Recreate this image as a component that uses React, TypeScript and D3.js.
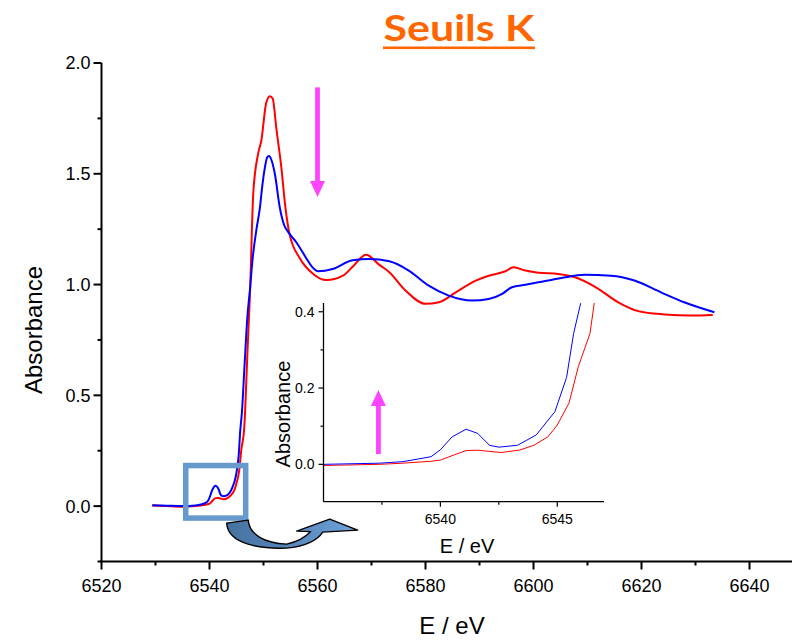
import React from "react";
import * as d3 from "d3";

// ---- Data ----
const energyBlue = [
  6529.4, 6532, 6535, 6537.4, 6538.4, 6539.6, 6540.0, 6540.5, 6541.1, 6541.6, 6542.1, 6542.5,
  6543.3, 6544.1, 6544.9, 6545.4, 6545.7, 6546.0, 6546.5, 6547.0, 6547.5, 6548.0, 6548.7, 6549.3,
  6549.8, 6550.2, 6550.7, 6551.0, 6551.5, 6552.1, 6553.0, 6553.8, 6554.5, 6556.1, 6557.9, 6559.0,
  6560.1, 6562.8, 6566.5, 6569.6, 6573.3, 6576.9, 6580.6, 6584.3, 6588.6, 6591.7, 6594.2, 6596.0,
  6598.5, 6600.9, 6605.2, 6609.5, 6614.4, 6618.7, 6623.6, 6627.9, 6633.5,
];
const absBlue = [
  0.004, 0.002, 0.0, 0.003, 0.007, 0.02, 0.038, 0.072, 0.092, 0.081, 0.05, 0.045,
  0.05, 0.077, 0.138, 0.228, 0.343, 0.422, 0.64, 0.85, 0.98, 1.12, 1.25, 1.34,
  1.45, 1.52, 1.575, 1.58, 1.56, 1.5, 1.35, 1.27, 1.24, 1.19, 1.12, 1.08,
  1.06, 1.07, 1.11, 1.115, 1.105, 1.063, 0.995, 0.95, 0.928, 0.935, 0.958, 0.988,
  0.999, 1.01, 1.03, 1.044, 1.04, 1.018, 0.965, 0.92, 0.875,
];
const energyRed = [
  6529.4, 6532, 6535, 6537.4, 6538.4, 6539.6, 6540.0, 6540.6, 6541.1, 6541.6, 6542.6, 6543.4,
  6544.0, 6544.6, 6545.0, 6545.5, 6545.9, 6546.4, 6546.6, 6547.0, 6547.5, 6548.1, 6549.0, 6549.6,
  6550.5, 6551.2, 6551.7, 6552.4, 6553.3, 6554.0, 6554.8, 6556.7, 6559.1, 6561.6, 6564.7, 6566.5,
  6569.0, 6571.4, 6573.3, 6576.3, 6580.0, 6582.5, 6585.6, 6589.3, 6591.7, 6594.8, 6596.3, 6598.5,
  6600.9, 6604.6, 6607.7, 6611.4, 6615.7, 6619.4, 6624.3, 6629.2, 6633.2,
];
const absRed = [
  0.003, 0.0, -0.003, 0.0, 0.003, 0.008, 0.011, 0.025, 0.036, 0.037, 0.031, 0.0375,
  0.05, 0.072, 0.103, 0.16, 0.256, 0.343, 0.43, 0.68, 0.96, 1.41, 1.59, 1.65,
  1.82, 1.85, 1.84, 1.7, 1.53, 1.36, 1.23, 1.12, 1.05, 1.02, 1.04, 1.08,
  1.135, 1.09, 1.056, 0.973, 0.913, 0.92, 0.965, 1.018, 1.04, 1.06, 1.078, 1.063,
  1.053, 1.048, 1.033, 0.99, 0.92, 0.88, 0.865, 0.86, 0.863,
];

const mainXTicks = [6520, 6540, 6560, 6580, 6600, 6620, 6640];
const mainXMinor = [6530, 6550, 6570, 6590, 6610, 6630, 6650];
const mainYTicks = [0.0, 0.5, 1.0, 1.5, 2.0];
const mainYMinor = [-0.25, 0.25, 0.75, 1.25, 1.75];
const insetXTicks = [6540, 6545];
const insetXMinor = [6537.5, 6542.5];
const insetYTicks = [0.0, 0.2, 0.4];
const insetYMinor = [0.1, 0.3];

const zoomBoxE = [6535.6, 6546.7];
const zoomBoxA = [-0.054, 0.183];

const FONT = "'Liberation Sans', Arial, sans-serif";
const BLUE = "#0000ff";
const RED = "#ff0000";
const MAGENTA = "#ff44ff";

export default function App() {
  const x = d3.scaleLinear().domain([6520, 6648]).range([101.5, 792.7]);
  const y = d3.scaleLinear().domain([-0.25, 2.0]).range([561.5, 63]);
  const xi = d3.scaleLinear().domain([6535, 6547]).range([323.5, 604]);
  const yi = d3.scaleLinear().domain([-0.098, 0.423]).range([501.7, 303]);

  const blue = energyBlue.map((e, i) => [e, absBlue[i]] as [number, number]);
  const red = energyRed.map((e, i) => [e, absRed[i]] as [number, number]);

  const mainLine = d3
    .line<[number, number]>()
    .x((d) => x(d[0]))
    .y((d) => y(d[1]))
    .curve(d3.curveMonotoneX);
  const insetLine = d3
    .line<[number, number]>()
    .x((d) => xi(d[0]))
    .y((d) => yi(d[1]));

  const x0 = x.range()[0];
  const yb = y.range()[0];
  const xi0 = xi.range()[0];
  const yib = yi.range()[0];

  // zoom box
  const bx0 = x(zoomBoxE[0]);
  const bx1 = x(zoomBoxE[1]);
  const by0 = y(zoomBoxA[1]);
  const by1 = y(zoomBoxA[0]);

  // curved arrow anchored to the zoom box's bottom-right corner
  const ax = bx1;
  const ay = by1;
  const arrowPath = `M ${ax - 19} ${ay + 5}
    C ${ax - 18} ${ay + 27}, ${ax + 17} ${ay + 31}, ${ax + 41} ${ay + 30}
    C ${ax + 59} ${ay + 29}, ${ax + 72} ${ay + 22}, ${ax + 77} ${ay + 14}
    L ${ax + 112} ${ay + 12}
    L ${ax + 84} ${ay + 1}
    L ${ax + 51} ${ay + 13}
    L ${ax + 65} ${ay + 13.5}
    C ${ax + 59} ${ay + 20}, ${ax + 51} ${ay + 24}, ${ax + 41} ${ay + 26}
    C ${ax + 19} ${ay + 25}, ${ax + 4} ${ay + 17}, ${ax + 2.5} ${ay + 2} Z`;

  // magenta arrows
  const mArrowE = 6560;
  const mArrowTop = y(1.89);
  const mArrowTip = y(1.395);
  const mx = x(mArrowE);
  const iArrowE = 6537.35;
  const ix = xi(iArrowE);
  const iArrowBottom = yi(0.027);
  const iArrowTip = yi(0.195);

  return (
    <svg
      width={792}
      height={640}
      style={{ position: "absolute", left: 0, top: 0, background: "#fff" }}
      fontFamily={FONT}
    >
      <defs>
        <clipPath id="mainClip">
          <rect x={x0} y={y.range()[1] - 10} width={792 - x0} height={yb - y.range()[1] + 10} />
        </clipPath>
        <clipPath id="insetClip">
          <rect x={xi0} y={yi.range()[1]} width={xi.range()[1] - xi0} height={yib - yi.range()[1]} />
        </clipPath>
        <linearGradient id="arrowGrad" x1="0" x2="1" y1="0" y2="0">
          <stop offset="0%" stopColor="#46729f" />
          <stop offset="45%" stopColor="#5584b9" />
          <stop offset="100%" stopColor="#6fa4da" />
        </linearGradient>
      </defs>

      {/* Title */}
      <text x={459} y={41} textAnchor="middle" fontFamily="Lato, 'Open Sans', sans-serif" fontWeight={700} fontSize={37} fill="#ff6600" textLength={151} lengthAdjust="spacingAndGlyphs">
        Seuils K
      </text>
      <rect x={383} y={46.5} width={152} height={2.6} fill="#ff6600" />

      {/* Main curves */}
      <g clipPath="url(#mainClip)">
        <path d={mainLine(red) || ""} fill="none" stroke={RED} strokeWidth={2} strokeLinejoin="round" />
        <path d={mainLine(blue) || ""} fill="none" stroke={BLUE} strokeWidth={2} strokeLinejoin="round" />
      </g>

      {/* Main axes */}
      <line x1={x0} x2={x0} y1={y(2.0)} y2={yb} stroke="#000" strokeWidth={2} />
      <line x1={x0 - 1} x2={792} y1={yb} y2={yb} stroke="#000" strokeWidth={2} />
      {mainXTicks.map((t) => (
        <g key={"mx" + t}>
          <line x1={x(t)} x2={x(t)} y1={yb} y2={yb + 8} stroke="#000" strokeWidth={2} />
          <text x={x(t)} y={592} textAnchor="middle" fontSize={18} fill="#000">
            {t}
          </text>
        </g>
      ))}
      {mainXMinor.map((t) => (
        <line key={"mxm" + t} x1={x(t)} x2={x(t)} y1={yb} y2={yb + 4} stroke="#000" strokeWidth={2} />
      ))}
      {mainYTicks.map((t) => (
        <g key={"my" + t}>
          <line x1={x0 - 8} x2={x0} y1={y(t)} y2={y(t)} stroke="#000" strokeWidth={2} />
          <text x={x0 - 11} y={y(t)} dy="0.36em" textAnchor="end" fontSize={18} fill="#000">
            {t.toFixed(1)}
          </text>
        </g>
      ))}
      {mainYMinor.map((t) => (
        <line key={"mym" + t} x1={x0 - 4} x2={x0} y1={y(t)} y2={y(t)} stroke="#000" strokeWidth={2} />
      ))}
      <text transform={`translate(42,330) rotate(-90)`} textAnchor="middle" fontSize={24} fill="#000">
        Absorbance
      </text>
      <text x={452} y={634} textAnchor="middle" fontSize={24} fill="#000">
        E / eV
      </text>

      {/* Magenta arrow (main) */}
      <rect x={mx - 2.4} y={mArrowTop} width={4.8} height={mArrowTip - mArrowTop - 14} fill={MAGENTA} />
      <polygon points={`${mx - 7.5},${mArrowTip - 16} ${mx + 7.5},${mArrowTip - 16} ${mx},${mArrowTip}`} fill={MAGENTA} />

      {/* Zoom box */}
      <rect x={bx0} y={by0} width={bx1 - bx0} height={by1 - by0} fill="none" stroke="#6699cc" strokeWidth={5.5} />

      {/* Curved arrow */}
      <path d={arrowPath} fill="url(#arrowGrad)" stroke="#000" strokeWidth={1.4} strokeLinejoin="round" />

      {/* Inset */}
      <g clipPath="url(#insetClip)">
        <path d={insetLine(red) || ""} fill="none" stroke={RED} strokeWidth={1} />
        <path d={insetLine(blue) || ""} fill="none" stroke={BLUE} strokeWidth={1} />
      </g>
      <line x1={xi0} x2={xi0} y1={yi.range()[1]} y2={yib} stroke="#000" strokeWidth={1.3} />
      <line x1={xi0} x2={xi.range()[1]} y1={yib} y2={yib} stroke="#000" strokeWidth={1.3} />
      {insetXTicks.map((t) => (
        <g key={"ix" + t}>
          <line x1={xi(t)} x2={xi(t)} y1={yib} y2={yib + 5} stroke="#000" strokeWidth={1.2} />
          <text x={xi(t)} y={524} textAnchor="middle" fontSize={14} fill="#000">
            {t}
          </text>
        </g>
      ))}
      {insetXMinor.map((t) => (
        <line key={"ixm" + t} x1={xi(t)} x2={xi(t)} y1={yib} y2={yib + 3} stroke="#000" strokeWidth={1.2} />
      ))}
      {insetYTicks.map((t) => (
        <g key={"iy" + t}>
          <line x1={xi0 - 5} x2={xi0} y1={yi(t)} y2={yi(t)} stroke="#000" strokeWidth={1.2} />
          <text x={xi0 - 9} y={yi(t)} dy="0.36em" textAnchor="end" fontSize={14} fill="#000">
            {t.toFixed(1)}
          </text>
        </g>
      ))}
      {insetYMinor.map((t) => (
        <line key={"iym" + t} x1={xi0 - 3} x2={xi0} y1={yi(t)} y2={yi(t)} stroke="#000" strokeWidth={1.2} />
      ))}
      <text transform={`translate(290,414) rotate(-90)`} textAnchor="middle" fontSize={20} fill="#000">
        Absorbance
      </text>
      <text x={467} y={553} textAnchor="middle" fontSize={20} fill="#000">
        E / eV
      </text>

      {/* Magenta arrow (inset) */}
      <rect x={ix - 2.4} y={iArrowTip + 14} width={4.8} height={iArrowBottom - iArrowTip - 14} fill={MAGENTA} />
      <polygon points={`${ix - 7.5},${iArrowTip + 16} ${ix + 7.5},${iArrowTip + 16} ${ix},${iArrowTip}`} fill={MAGENTA} />
    </svg>
  );
}
